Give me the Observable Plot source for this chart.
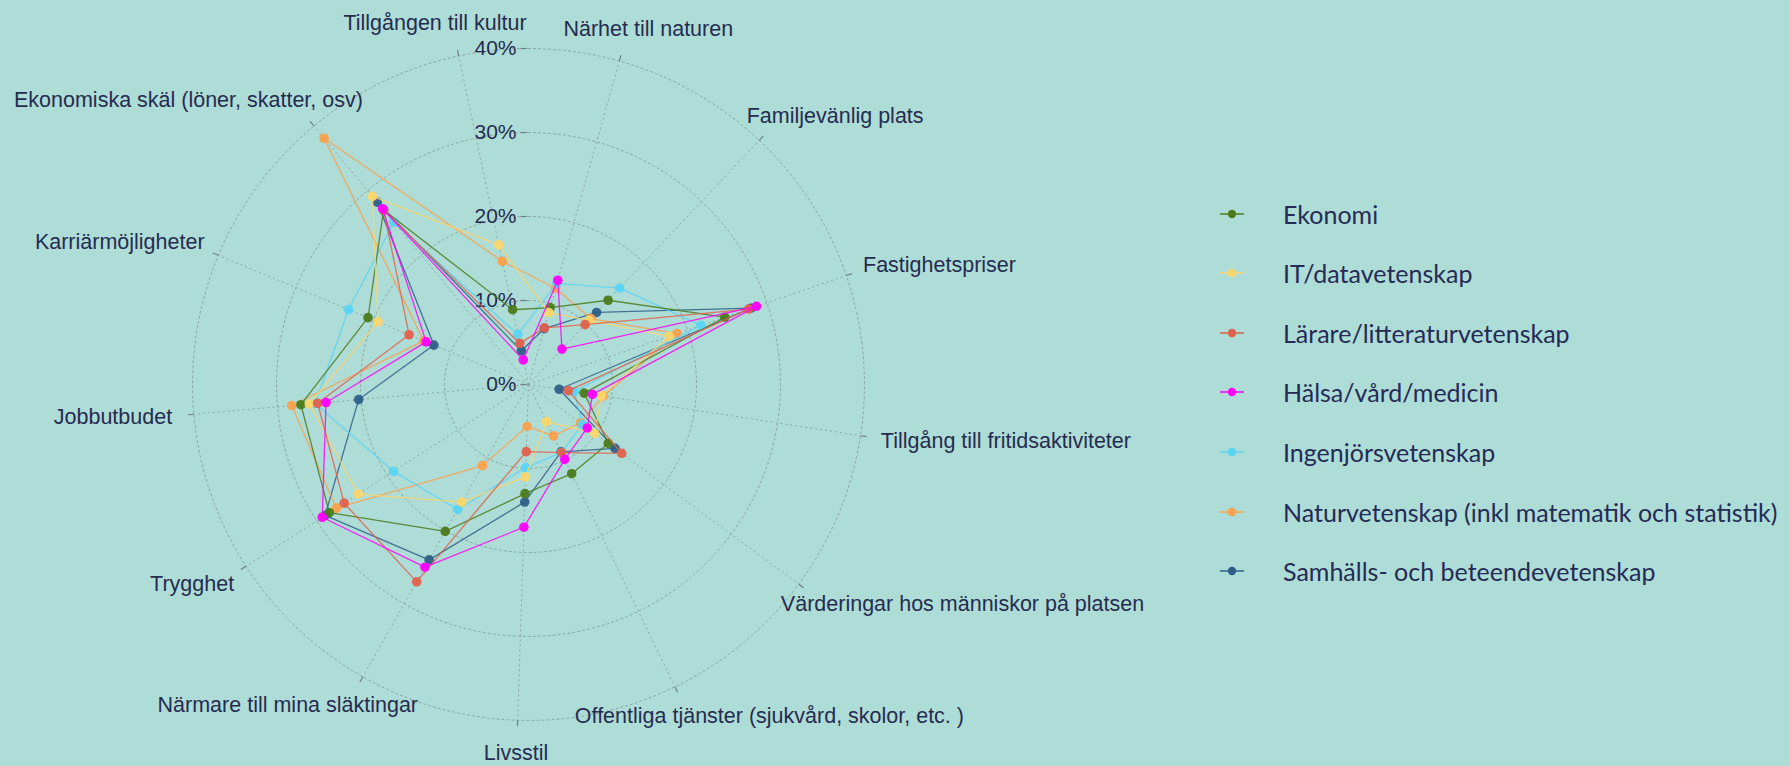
<!DOCTYPE html>
<html><head><meta charset="utf-8">
<script src="https://cdn.jsdelivr.net/npm/d3@7"></script>
<script src="https://cdn.jsdelivr.net/npm/@observablehq/plot@0.6"></script>
<style>
html,body{margin:0;padding:0;background:#aedcd7;}
#wrap{position:relative;width:1790px;height:766px;overflow:hidden;background:#aedcd7;}
#wrap > svg{position:absolute;left:0;top:0;}
#wrap .item{position:absolute;display:flex;align-items:center;font-family:Lato,"Noto Sans",sans-serif;font-size:25px;color:#252b55;white-space:nowrap;}
#wrap .item svg{position:static;margin-right:39px;flex:none;}
</style></head><body><div id="wrap"></div>
<script>
// ---- data ----
const categories = [
  "Tillgången till kultur",
  "Närhet till naturen",
  "Familjevänlig plats",
  "Fastighetspriser",
  "Tillgång till fritidsaktiviteter",
  "Värderingar hos människor på platsen",
  "Offentliga tjänster (sjukvård, skolor, etc. )",
  "Livsstil",
  "Närmare till mina släktingar",
  "Trygghet",
  "Jobbutbudet",
  "Karriärmöjligheter",
  "Ekonomiska skäl (löner, skatter, osv)"
];
const seriesNames = [
  "Ekonomi",
  "IT/datavetenskap",
  "Lärare/litteraturvetenskap",
  "Hälsa/vård/medicin",
  "Ingenjörsvetenskap",
  "Naturvetenskap (inkl matematik och statistik)",
  "Samhälls- och beteendevetenskap"
];
const ekonomi   = [9.1, 9.5, 13.8, 24.7, 6.7, 11.8, 11.8, 13.0, 20.1, 28.2, 27.2, 20.7, 27.0];
const it        = [17.0, 8.9, 10.5, 17.7, 8.8, 9.8, 4.9, 11.0, 16.1, 24.1, 26.2, 19.4, 29.1];
const larare    = [5.0, 7.0, 9.8, 27.7, 4.8, 13.8, 9.0, 8.0, 27.0, 26.1, 25.2, 15.4, 27.0];
const halsa     = [3.0, 12.9, 5.8, 28.7, 7.7, 8.7, 9.9, 17.0, 25.0, 29.2, 24.2, 13.2, 27.2];
const ingenjor  = [6.1, 12.5, 15.8, 21.7, 5.5, 8.0, 9.0, 9.9, 17.1, 19.1, 25.5, 23.2, 25.1];
const naturvet  = [15.0, 11.9, 10.8, 18.7, 9.0, 7.7, 6.8, 5.0, 11.1, 27.2, 28.3, 13.5, 38.1];
const samhalls  = [4.1, 6.9, 11.8, 28.0, 3.7, 12.8, 8.9, 14.0, 24.0, 28.8, 20.3, 12.2, 28.2];
const seriesValues = [ekonomi, it, larare, halsa, ingenjor, naturvet, samhalls];
const radialTicks = [0, 10, 20, 30, 40];
const radialTickLabels = ["0%", "10%", "20%", "30%", "40%"];

// ---- styles / geometry ----
const palette = ["#4b7b1c", "#fbd66b", "#e0614e", "#ff00ff", "#5ad4f3", "#fba04b", "#2f5f88"];
const drawOrder = [6, 5, 4, 0, 1, 2, 3];
const navy = "#262c50";
const gridColor = "#8aa5a2";
const labelFont = "'Liberation Sans', Arial, sans-serif";
const labelSize = 21.5;
const W = 1790, H = 766;
const cx = 528, cy = 384, R40 = 336;            // pixel center and 40% radius
const pxPerUnit = R40 / 40;
const startAngle = -12.0, step = 360 / categories.length; // clockwise from north
const rad = a => a * Math.PI / 180;
const ang = i => rad(startAngle + i * step);
const px = (v, i) => v * Math.sin(ang(i));
const py = (v, i) => v * Math.cos(ang(i));

// measure label widths
const cvs = document.createElement("canvas").getContext("2d");
cvs.font = `${labelSize}px ${labelFont}`;
const labelR = 358, halfH = 11;
const labelData = categories.map((c, i) => {
  const w = cvs.measureText(c).width;
  const a = ang(i);
  return {
    text: c,
    x: (labelR + w / 2) * Math.sin(a) / pxPerUnit,
    y: (labelR + halfH) * Math.cos(a) / pxPerUnit
  };
});

// grid rings
const ringPts = [];
radialTicks.filter(t => t > 0).forEach(t => {
  for (let d = 0; d <= 360; d += 2) ringPts.push({ring: t, x: t * Math.sin(rad(d)), y: t * Math.cos(rad(d))});
});

const marks = [
  Plot.line(ringPts, {x: "x", y: "y", z: "ring", stroke: gridColor, strokeWidth: 1, strokeDasharray: "2,3"}),
  Plot.link(categories, {x1: () => 0, y1: () => 0, x2: (d, i) => px(40, i), y2: (d, i) => py(40, i),
    stroke: gridColor, strokeWidth: 1, strokeDasharray: "2,3"}),
  Plot.link(categories, {x1: (d, i) => px(40, i), y1: (d, i) => py(40, i),
    x2: (d, i) => px(40 + 6 / pxPerUnit, i), y2: (d, i) => py(40 + 6 / pxPerUnit, i),
    stroke: "#6f7f80", strokeWidth: 1.2}),
  Plot.link(radialTicks, {x1: () => -8 / pxPerUnit, x2: () => -2 / pxPerUnit, y1: d => d, y2: d => d,
    stroke: "#6f7f80", strokeWidth: 1.2}),
  Plot.text(radialTicks, {x: () => -12 / pxPerUnit, y: d => d, text: (d, i) => radialTickLabels[i],
    textAnchor: "end", lineAnchor: "middle", fontSize: 21, fill: navy, fontFamily: labelFont}),
  Plot.text(labelData, {x: "x", y: "y", text: "text", textAnchor: "middle", lineAnchor: "middle",
    fontSize: labelSize, fill: navy, fontFamily: labelFont})
];

drawOrder.forEach(k => {
  const vals = seriesValues[k];
  const rows = categories.map((c, i) => ({series: seriesNames[k], cat: c, value: vals[i], x: px(vals[i], i), y: py(vals[i], i)}));
  marks.push(Plot.line([...rows, rows[0]], {x: "x", y: "y", stroke: "series", strokeWidth: 1.3, strokeOpacity: 0.85}));
  marks.push(Plot.dot(rows, {x: "x", y: "y", r: 4.8, fill: "series", fillOpacity: 0.95}));
});

const chart = Plot.plot({
  width: W, height: H, margin: 0,
  style: {background: "transparent", overflow: "visible"},
  x: {type: "linear", domain: [-40, 40], range: [cx - R40, cx + R40], axis: null},
  y: {type: "linear", domain: [-40, 40], range: [cy + R40, cy - R40], axis: null},
  color: {domain: seriesNames, range: palette},
  marks
});
const wrap = document.getElementById("wrap");
wrap.appendChild(chart);

// legend
seriesNames.forEach((s, k) => {
  const item = document.createElement("div");
  item.className = "item";
  item.style.left = "1220px";
  item.style.top = (213.5 + k * 59.6 - 18) + "px";
  item.style.height = "36px";
  item.innerHTML = `<svg width="24" height="12" viewBox="0 0 24 12"><line x1="0" y1="6" x2="24" y2="6" stroke="${palette[k]}" stroke-width="1.5"/><circle cx="12" cy="6" r="4.2" fill="${palette[k]}"/></svg><span>${s}</span>`;
  wrap.appendChild(item);
});
</script>
</body></html>
